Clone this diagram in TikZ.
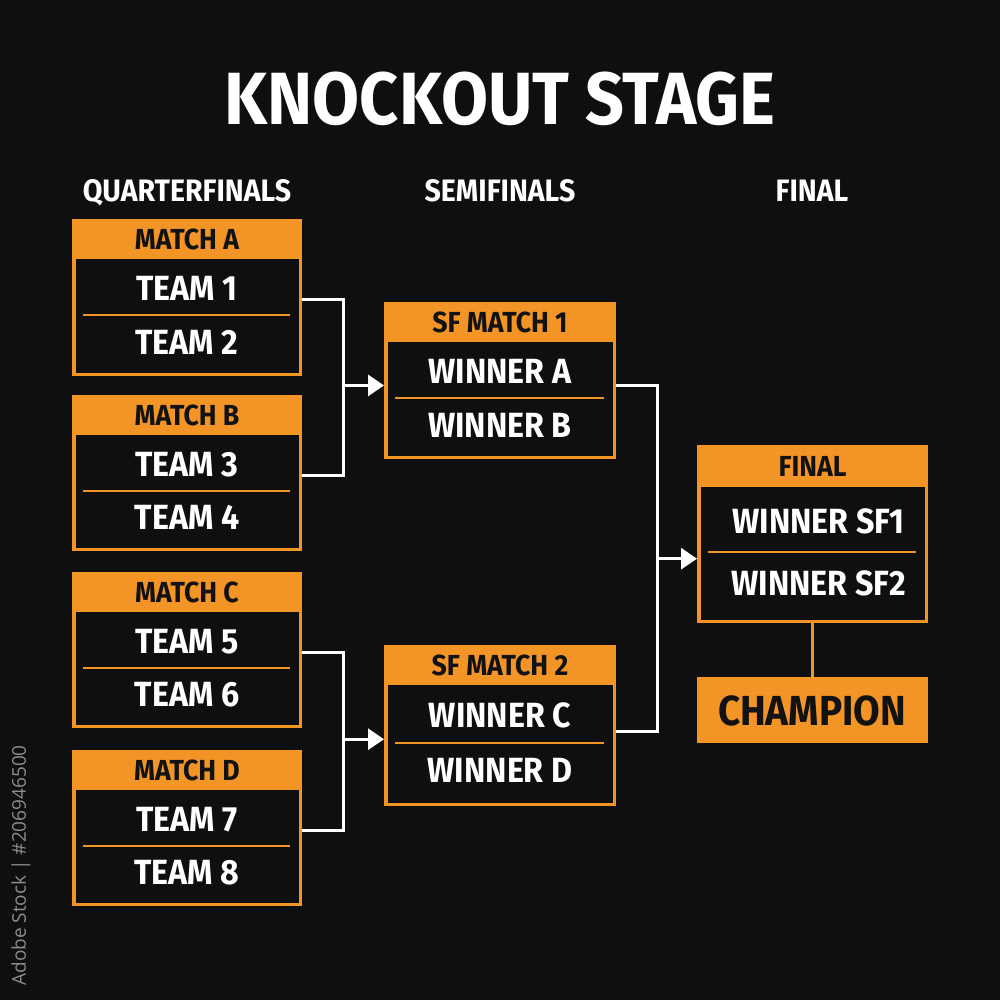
\documentclass[tikz,border=0pt]{standalone}
\usepackage{fontspec}
\setmainfont{Fira Sans}[FakeStretch=0.92]
\newfontfamily\wmfont{Open Sans}
\usetikzlibrary{arrows.meta,calc}
\definecolor{bg}{HTML}{0F0F11}
\definecolor{org}{HTML}{F39427}
\definecolor{ink}{HTML}{121212}
\definecolor{wmgray}{HTML}{8C8C8C}
\tikzset{
  outerbox/.style={fill=org, draw=none, inner sep=0pt, anchor=north west},
  innerbox/.style={fill=bg, draw=none, inner sep=0pt, anchor=north west},
  hdrtxt/.style={text=ink, font=\bfseries\fontsize{29}{29}\selectfont, inner sep=0pt, anchor=base},
  teamtxt/.style={text=white, font=\bfseries\fontsize{35}{35}\selectfont, inner sep=0pt, anchor=base},
  coltxt/.style={text=white, font=\bfseries\fontsize{31}{31}\selectfont, inner sep=0pt, anchor=base},
  titletxt/.style={text=white, font=\bfseries\fontsize{74}{74}\selectfont, inner sep=0pt, anchor=base},
  champtxt/.style={text=ink, font=\bfseries\fontsize{42}{42}\selectfont, inner sep=0pt, anchor=base},
  wire/.style={draw=white, line width=3pt},
  arr/.style={wire, -{Triangle[length=16pt,width=21pt]}},
  divider/.style={draw=org, line width=2.2pt},
  stem/.style={draw=org, line width=3pt},
}
% name, left, top, width, height, header height, header, text 1, text 2
\newcommand\bracketbox[9]{%
  \node[outerbox, minimum width=#4, minimum height=#5] (#1) at (#2,#3) {};
  \node[innerbox, minimum width=#4-7, minimum height=#5-#6-3.5] (#1in) at ({#2+3.5},{#3+#6}) {};
  \node[hdrtxt] (#1h) at ({#2+#4/2},{#3+#6/2+10}) {#7};
  \node[teamtxt] (#1t) at ({#2+#4/2},{#3+#6+0.25*(#5-#6)+12}) {#8};
  \node[teamtxt] (#1b) at ({#2+#4/2},{#3+#6+0.71*(#5-#6)+12}) {#9};
  \draw[divider] ({#2+11},{#3+#6+0.48*(#5-#6)}) -- ({#2+#4-12},{#3+#6+0.48*(#5-#6)});
}
\begin{document}
\begin{tikzpicture}[x=1pt,y=-1pt]
\fill[bg] (0,0) rectangle (1000,1000);
\useasboundingbox (0,0) rectangle (1000,1000);

% title and column headings
\node[titletxt] (title) at (500,125) {KNOCKOUT STAGE};
\node[coltxt] (colqf) at (187,202) {QUARTERFINALS};
\node[coltxt] (colsf) at (500,202) {SEMIFINALS};
\node[coltxt] (colf) at (812,202) {FINAL};

% quarterfinals
\bracketbox{qa}{72}{219}{230}{157}{40}{MATCH A}{TEAM 1}{TEAM 2}
\bracketbox{qb}{72}{395}{230}{156}{40}{MATCH B}{TEAM 3}{TEAM 4}
\bracketbox{qc}{72}{572}{230}{156}{40}{MATCH C}{TEAM 5}{TEAM 6}
\bracketbox{qd}{72}{750}{230}{156}{40}{MATCH D}{TEAM 7}{TEAM 8}

% semifinals
\bracketbox{sa}{384}{302}{232}{157}{40}{SF MATCH 1}{WINNER A}{WINNER B}
\bracketbox{sb}{384}{645}{232}{161}{40}{SF MATCH 2}{WINNER C}{WINNER D}

% final
\bracketbox{fin}{697}{445}{231}{178}{42}{FINAL}{\hspace*{12pt}WINNER SF1}{\hspace*{12pt}WINNER SF2}

% champion
\node[outerbox, minimum width=231, minimum height=66] (champ) at (697,677) {};
\node[champtxt] (champt) at (812,725) {CHAMPION};
\draw[stem] (fin.south) -- (champ.north);

% connectors QF -> SF
\coordinate (j1) at ($(qa.east)!0.5!(qb.east)+(41,0)$);
\draw[wire] ([yshift=-2pt]qa.east) -| (j1) |- ([yshift=-2pt]qb.east);
\draw[arr] (j1) -- (j1 -| sa.west);

\coordinate (j2) at ($(qc.east)!0.5!(qd.east)+(41,0)$);
\draw[wire] ([yshift=-2pt]qc.east) -| (j2) |- ([yshift=-2pt]qd.east);
\draw[arr] (j2) -- (j2 -| sb.west);

% connectors SF -> final
\coordinate (j3) at ($([yshift=-5pt]sa.east)!0.5!([yshift=-6pt]sb.east)+(41,0)$);
\draw[wire] ([yshift=-5pt]sa.east) -| (j3) |- ([yshift=-6pt]sb.east);
\draw[arr] (j3) -- (j3 -| fin.west);

% side credit
\node[text=wmgray, font=\wmfont\fontsize{19}{19}\selectfont, rotate=90, anchor=east, inner sep=0pt] (credit) at (21,745) {Adobe Stock | \#206946500};
\end{tikzpicture}
\end{document}
